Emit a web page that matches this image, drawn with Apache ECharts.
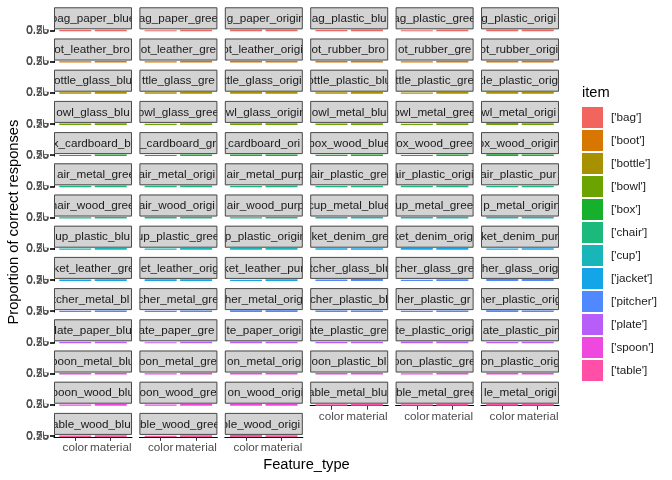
<!DOCTYPE html>
<html><head><meta charset="utf-8">
<script src="https://cdn.jsdelivr.net/npm/echarts@6/dist/echarts.min.js"></script>
<style>html,body{margin:0;padding:0;background:#fff}#c{width:672px;height:480px}</style>
</head><body><div id="c"></div>
<script>
const items = ['bag','boot','bottle','bowl','box','chair','cup','jacket','pitcher','plate','spoon','table'];
const itemLabels = items.map(s => "['" + s + "']");
const itemColors = ['#F2655F','#D77600','#A89100','#6BA300','#16B02C','#1CB97D','#18B6B8','#14A5E8','#5089FF','#B95DF9','#EE48DF','#FF4FA6'];
const featureTypes = ['color','material'];
const yTicks = [0, 0.25, 0.5, 0.75];
const panels = [
 'bag_paper_blue','bag_paper_green','bag_paper_original','bag_plastic_blue','bag_plastic_green','bag_plastic_original',
 'boot_leather_brown','boot_leather_green','boot_leather_original','boot_rubber_brown','boot_rubber_green','boot_rubber_original',
 'bottle_glass_blue','bottle_glass_green','bottle_glass_original','bottle_plastic_blue','bottle_plastic_green','bottle_plastic_original',
 'bowl_glass_blue','bowl_glass_green','bowl_glass_original','bowl_metal_blue','bowl_metal_green','bowl_metal_original',
 'box_cardboard_blue','box_cardboard_green','box_cardboard_original','box_wood_blue','box_wood_green','box_wood_original',
 'chair_metal_green','chair_metal_original','chair_metal_purple','chair_plastic_green','chair_plastic_original','chair_plastic_purple',
 'chair_wood_green','chair_wood_original','chair_wood_purple','cup_metal_blue','cup_metal_green','cup_metal_original',
 'cup_plastic_blue','cup_plastic_green','cup_plastic_original','jacket_denim_green','jacket_denim_original','jacket_denim_purple',
 'jacket_leather_green','jacket_leather_original','jacket_leather_purple','pitcher_glass_blue','pitcher_glass_green','pitcher_glass_original',
 'pitcher_metal_blue','pitcher_metal_green','pitcher_metal_original','pitcher_plastic_blue','pitcher_plastic_green','pitcher_plastic_original',
 'plate_paper_blue','plate_paper_green','plate_paper_original','plate_plastic_green','plate_plastic_original','plate_plastic_pink',
 'spoon_metal_blue','spoon_metal_green','spoon_metal_original','spoon_plastic_blue','spoon_plastic_green','spoon_plastic_original',
 'spoon_wood_blue','spoon_wood_green','spoon_wood_original','table_metal_blue','table_metal_green','table_metal_original',
 'table_wood_blue','table_wood_green','table_wood_original'
];
const colorProp = [
 0.62,0.55,0.88,0.70,0.58,0.91, 0.66,0.60,0.85,0.72,0.64,0.90,
 0.74,0.69,0.93,0.71,0.63,0.89, 0.68,0.57,0.86,0.75,0.61,0.92,
 0.59,0.52,0.84,0.66,0.60,0.87, 0.73,0.80,0.65,0.70,0.83,0.62,
 0.68,0.86,0.60,0.77,0.71,0.91, 0.64,0.58,0.88,0.69,0.85,0.61,
 0.72,0.87,0.63,0.66,0.59,0.90, 0.70,0.62,0.89,0.74,0.65,0.92,
 0.63,0.57,0.86,0.68,0.90,0.60, 0.71,0.64,0.88,0.69,0.61,0.87,
 0.66,0.58,0.85,0.73,0.67,0.91, 0.70,0.62,0.89
];
const materialProp = [
 0.81,0.78,0.84,0.86,0.83,0.88, 0.79,0.82,0.80,0.85,0.87,0.83,
 0.90,0.88,0.91,0.84,0.86,0.89, 0.82,0.80,0.85,0.87,0.84,0.88,
 0.76,0.79,0.81,0.83,0.80,0.86, 0.85,0.87,0.84,0.82,0.88,0.81,
 0.80,0.83,0.79,0.89,0.86,0.90, 0.84,0.82,0.87,0.78,0.81,0.77,
 0.80,0.83,0.79,0.91,0.88,0.92, 0.86,0.84,0.88,0.83,0.81,0.85,
 0.77,0.75,0.80,0.82,0.85,0.79, 0.88,0.86,0.90,0.84,0.82,0.87,
 0.81,0.79,0.83,0.86,0.84,0.89, 0.80,0.78,0.82
];

const COLS = 6, X0 = 54, XP = 85.4, PW = 78, Y0 = 7.3, YP = 31.2, SH = 22, PH = 2;
const FONT = '"Liberation Sans", Arial, sans-serif';
const STRIP_FONT = '11.7px ' + FONT;
const cv = document.createElement('canvas').getContext('2d');
cv.font = STRIP_FONT;

// keep the characters whose centre falls inside the strip; the rest is clipped by masks
function visiblePart(text, avail) {
  const full = cv.measureText(text).width;
  if (full <= avail) return { s: text, off: (avail - full) / 2 };
  const lo = (full - avail) / 2, hi = lo + avail;
  let start = -1, end = -1;
  for (let k = 0; k < text.length; k++) {
    const a = cv.measureText(text.slice(0, k)).width;
    const b = cv.measureText(text.slice(0, k + 1)).width;
    const mid = (a + b) / 2;
    if (mid >= lo && mid <= hi) { if (start < 0) start = k; end = k; }
  }
  return { s: text.slice(start, end + 1), off: cv.measureText(text.slice(0, start)).width - lo };
}

const grid = [], xAxis = [], yAxis = [], series = [], graphics = [];
const nRows = Math.ceil(panels.length / COLS);
panels.forEach((p, i) => {
  const r = Math.floor(i / COLS), c = i % COLS;
  const left = X0 + c * XP, stripTop = Y0 + r * YP;
  const hasBelow = (i + COLS) < panels.length;
  grid.push({ left: left, top: stripTop + SH, width: PW, height: PH, containLabel: false });
  xAxis.push({
    type: 'value', gridIndex: i, min: 0.4, max: 2.6,
    show: !hasBelow,
    axisLine: { show: true, onZero: false, lineStyle: { color: '#000', width: 1 } },
    axisTick: { show: true, length: 4, customValues: [1, 2], lineStyle: { color: '#333' } },
    axisLabel: { show: true, customValues: [1, 2], formatter: v => featureTypes[Math.round(v) - 1], color: '#4D4D4D', fontSize: 11.7, fontFamily: FONT, margin: 5 },
    splitLine: { show: false }
  });
  yAxis.push({
    type: 'value', gridIndex: i, min: 0, max: 1, interval: 0.25,
    show: c === 0,
    axisLine: { show: true, lineStyle: { color: '#000', width: 1 } },
    axisTick: { show: true, length: 4, lineStyle: { color: '#333' } },
    axisLabel: { show: true, showMaxLabel: false, formatter: v => v.toFixed(2), color: '#4D4D4D', fontSize: 11.7, fontFamily: FONT, margin: 5 },
    splitLine: { show: false }
  });
  const it = items.indexOf(p.split('_')[0]);
  series.push({
    type: 'bar', name: itemLabels[it], xAxisIndex: i, yAxisIndex: i,
    barWidth: 32, itemStyle: { color: itemColors[it] },
    data: [[1, colorProp[i]], [2, materialProp[i]]]
  });
  graphics.push({ type: 'rect', z: 100, shape: { x: left, y: stripTop, width: PW, height: SH },
    style: { fill: '#D3D3D3' } });
  const v = visiblePart(p, PW);
  graphics.push({ type: 'text', z: 101, x: left + v.off, y: stripTop + SH / 2 + 0.5,
    style: { text: v.s, font: STRIP_FONT, fill: '#1A1A1A', textAlign: 'left', textVerticalAlign: 'middle' } });
  const gapL = c === 0 ? 10 : XP - PW;
  graphics.push({ type: 'rect', z: 102, shape: { x: left - gapL, y: stripTop, width: gapL, height: SH }, style: { fill: '#fff' } });
  const gapR = (c === COLS - 1 || i === panels.length - 1) ? 10 : XP - PW;
  graphics.push({ type: 'rect', z: 102, shape: { x: left + PW, y: stripTop, width: gapR, height: SH }, style: { fill: '#fff' } });
  graphics.push({ type: 'rect', z: 103, shape: { x: left + 0.5, y: stripTop + 0.5, width: PW - 1, height: SH - 1 },
    style: { fill: null, stroke: '#4A4A4A', lineWidth: 1 } });
});

graphics.push({ type: 'text', x: 14, y: (Y0 + (nRows - 1) * YP + SH + PH + Y0) / 2, rotation: Math.PI / 2,
  style: { text: 'Proportion of correct responses', font: '14.7px ' + FONT, fill: '#000', textAlign: 'center', textVerticalAlign: 'middle' } });
graphics.push({ type: 'text', x: X0 + (COLS - 1) * XP / 2 + PW / 2, y: 465,
  style: { text: 'Feature_type', font: '14.7px ' + FONT, fill: '#000', textAlign: 'center', textVerticalAlign: 'middle' } });
graphics.push({ type: 'text', x: 582, y: 93,
  style: { text: 'item', font: '14.7px ' + FONT, fill: '#000', textAlign: 'left', textVerticalAlign: 'middle' } });

const chart = echarts.init(document.getElementById('c'), null, { renderer: 'canvas' });
chart.setOption({
  animation: false,
  backgroundColor: '#fff',
  grid, xAxis, yAxis, series,
  legend: {
    data: itemLabels.map((n, k) => ({ name: n, itemStyle: { color: itemColors[k] } })),
    orient: 'vertical', left: 582, top: 107, padding: 0, itemWidth: 21, itemHeight: 21, itemGap: 2,
    icon: 'rect', selectedMode: false,
    textStyle: { fontSize: 11.7, fontFamily: FONT, color: '#1A1A1A', padding: [0, 0, 0, 3] }
  },
  graphic: { elements: graphics }
});
</script></body></html>
